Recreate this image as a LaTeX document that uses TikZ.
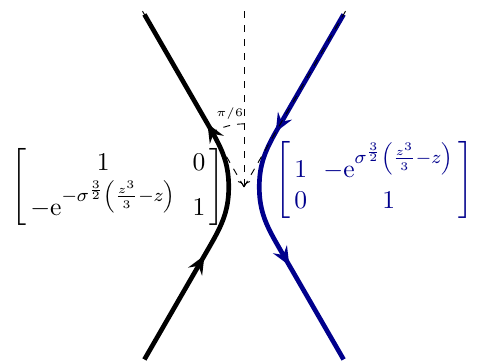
\documentclass[tikz,border=0pt]{standalone}
\usepackage{amsmath,amssymb}
\usepackage{xcolor}
\usepackage{tikz}
\usetikzlibrary{arrows.meta,decorations.markings,calc}
\definecolor{jumpblue}{RGB}{0,0,140}

\begin{document}
\begin{tikzpicture}[
  contour/.style={line width=2pt},
  guide/.style={dashed, thin},
  arrs/.style 2 args={postaction={decorate}, decoration={markings,
    mark=at position #1 with {\arrow{Stealth[length=2.8mm,width=2.4mm,inset=1mm]}},
    mark=at position #2 with {\arrow{Stealth[length=2.8mm,width=2.4mm,inset=1mm]}}}},
  mat/.style={font=\fontsize{11}{13.5}\selectfont, inner sep=2pt,
    execute at begin node={\setlength{\arraycolsep}{3.5pt}}},
  lbl/.style={font=\tiny, inner sep=1pt}
]
\useasboundingbox (-3.675,-2.636) rectangle (3.524,2.816);
\coordinate (O) at (0,0);
\coordinate (N) at (0,2.65);
\coordinate (NW) at (120:3.14);
\coordinate (NE) at (60:3.14);

% jump matrices
\node[mat] (lowjump) at (-1.9,0) {$\left[\,\begin{matrix} 1 & 0\\ -\mathrm{e}^{-\sigma^{\frac32}\left(\frac{z^3}{3}-z\right)} & 1\end{matrix}\,\right]$};
\node[mat, text=jumpblue] (upjump) at (1.96,0.1) {$\left[\,\begin{matrix} 1 & -\mathrm{e}^{\sigma^{\frac32}\left(\frac{z^3}{3}-z\right)}\\ 0 & 1\end{matrix}\,\right]$};

% contours
\draw[contour, arrs={0.31}{0.675}] (240:3) -- (240:1.1) to[out=60,in=-90] (-0.23,0)
  to[out=90,in=-60] (120:1.1) -- (120:3);
\draw[contour, jumpblue, arrs={0.35}{0.72}] (60:3) -- (60:1.1) to[out=-120,in=90] (0.23,0)
  to[out=-90,in=120] (-60:1.1) -- (-60:3);

% rays and angle
\draw[guide] (O) -- (NW);
\draw[guide] (O) -- (NE);
\draw[guide, ->] (N) -- (O);
\draw[guide] (O) ++(90:0.95) arc[start angle=90, end angle=120, radius=0.95];
\node[lbl] (ang) at (101:1.13) {$\pi/6$};
\end{tikzpicture}
\end{document}
